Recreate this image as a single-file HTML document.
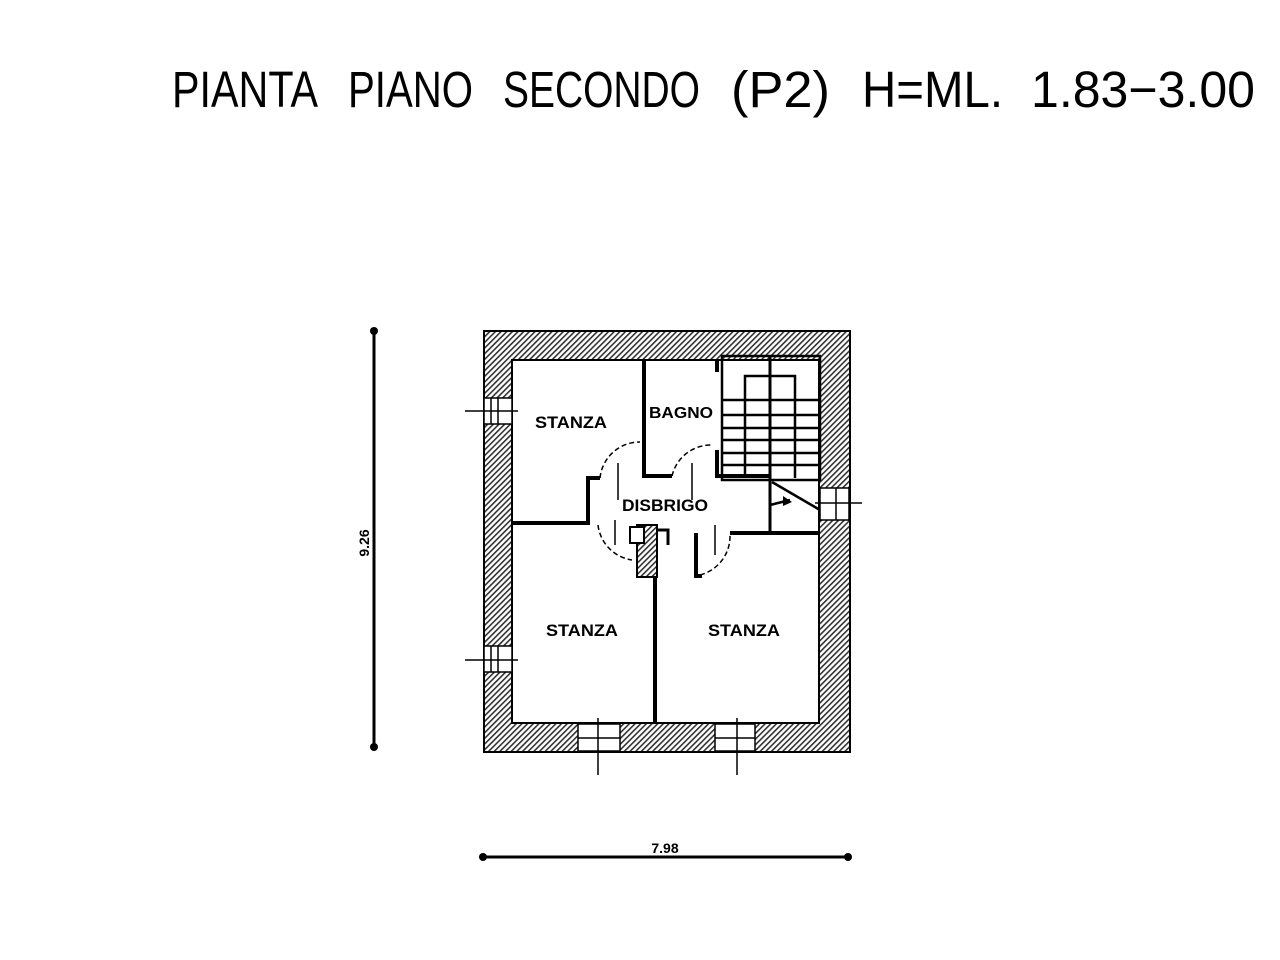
<!DOCTYPE html>
<html><head><meta charset="utf-8"><style>
html,body{margin:0;padding:0;background:#fff;}
svg{display:block;}
</style></head><body>
<svg width="1280" height="960" viewBox="0 0 1280 960" xmlns="http://www.w3.org/2000/svg">
<defs>
<pattern id="h" width="4" height="4" patternUnits="userSpaceOnUse" patternTransform="rotate(45)">
<rect width="4" height="4" fill="#fff"/><rect width="1.6" height="4" fill="#333"/>
</pattern>
</defs>
<g font-family="Liberation Sans, sans-serif" font-size="51" fill="#000" lengthAdjust="spacingAndGlyphs">
<text x="172" y="107" textLength="146" lengthAdjust="spacingAndGlyphs">PIANTA</text>
<text x="348" y="107" textLength="125" lengthAdjust="spacingAndGlyphs">PIANO</text>
<text x="503" y="107" textLength="197" lengthAdjust="spacingAndGlyphs">SECONDO</text>
<text x="731" y="107" textLength="99" lengthAdjust="spacingAndGlyphs">(P2)</text>
<text x="862" y="107" textLength="141" lengthAdjust="spacingAndGlyphs">H=ML.</text>
<text x="1031" y="107" textLength="224" lengthAdjust="spacingAndGlyphs">1.83−3.00</text>
</g>

<!-- outer walls -->
<path d="M484 331 H850 V752 H484 Z M512 360 V723 H819 V360 Z" fill="url(#h)" fill-rule="evenodd" stroke="#000" stroke-width="2"/>
<!-- windows -->
<g fill="#fff" stroke="#000" stroke-width="1.5">
<rect x="484" y="398" width="28" height="26"/>
<rect x="484" y="646" width="28" height="26"/>
<rect x="578" y="724" width="42" height="27"/>
<rect x="715" y="724" width="40" height="27"/>
<rect x="820" y="488" width="29" height="32"/>
</g>
<g stroke="#000" stroke-width="1.5" fill="none">
<path d="M465 411 H518 M491 398 V424 M498 398 V424"/>
<path d="M465 660 H518 M491 646 V672 M498 646 V672"/>
<path d="M598 718 V775 M578 738 H620"/>
<path d="M737 718 V775 M715 738 H755"/>
<path d="M815 503 H862 M836 488 V520"/>
</g>

<!-- interior walls -->
<g stroke="#000" stroke-width="4" fill="none">
<path d="M644 360 V476 H672"/>
<path d="M717 360 V372 M717 450 V476 H770"/>
<path d="M512 523 H588 V478 H600"/>
<path d="M730 533 H819"/>
<path d="M655 578 V723"/>
<path d="M696 533 V576 H702"/>
</g>
<rect x="637" y="525" width="20" height="52" fill="url(#h)" stroke="#000" stroke-width="2"/>
<rect x="630" y="527" width="14" height="16" fill="#fff" stroke="#000" stroke-width="2"/>
<path d="M657 530 H668 V545" stroke="#000" stroke-width="3" fill="none"/>
<path d="M588 478 V523" stroke="#000" stroke-width="2" fill="none"/>

<!-- stairs -->
<g stroke="#000" stroke-width="2.5" fill="none">
<rect x="722" y="356" width="98" height="124"/>
<path d="M745 478 V376 H795 V478"/>
<path d="M770 356 V533" stroke-width="3"/>
<path d="M722 400 H820 M722 415 H820 M722 428 H820 M722 440 H820 M722 453 H820 M722 465 H820"/>
<path d="M772 482 L820 510"/>
<path d="M770 505 L790 500"/>
</g>
<path d="M783 496 L792 502 L783 506 Z" fill="#000"/>

<!-- door swings -->
<g stroke="#000" stroke-width="1.5" fill="none" stroke-dasharray="5,3">
<path d="M600 478 A 40 40 0 0 1 640 442"/>
<path d="M672 476 A 40 40 0 0 1 712 445"/>
<path d="M598 525 A 40 40 0 0 0 632 560"/>
<path d="M700 575 A 40 40 0 0 0 730 535"/>
</g>
<g stroke="#000" stroke-width="1.5">
<path d="M618 463 V500 M692 463 V500 M615 520 V545 M715 525 V555"/>
</g>

<g font-family="Liberation Sans, sans-serif" font-size="17" font-weight="bold" fill="#000" text-anchor="middle">
<text x="571" y="428" textLength="72" lengthAdjust="spacingAndGlyphs">STANZA</text>
<text x="681" y="418" font-size="16" textLength="64" lengthAdjust="spacingAndGlyphs">BAGNO</text>
<text x="665" y="511" textLength="86" lengthAdjust="spacingAndGlyphs">DISBRIGO</text>
<text x="582" y="636" textLength="72" lengthAdjust="spacingAndGlyphs">STANZA</text>
<text x="744" y="636" textLength="72" lengthAdjust="spacingAndGlyphs">STANZA</text>
</g>

<!-- dimensions -->
<g stroke="#000" stroke-width="3">
<path d="M374 331 V747"/>
<path d="M483 857 H848"/>
</g>
<g fill="#000">
<circle cx="374" cy="331" r="4"/><circle cx="374" cy="747" r="4"/>
<circle cx="483" cy="857" r="4"/><circle cx="848" cy="857" r="4"/>
</g>
<text x="665" y="853" font-family="Liberation Sans, sans-serif" font-size="14" font-weight="bold" text-anchor="middle">7.98</text>
<text transform="translate(369,543) rotate(-90)" font-family="Liberation Sans, sans-serif" font-size="14" font-weight="bold" text-anchor="middle">9.26</text>
</svg>
</body></html>
